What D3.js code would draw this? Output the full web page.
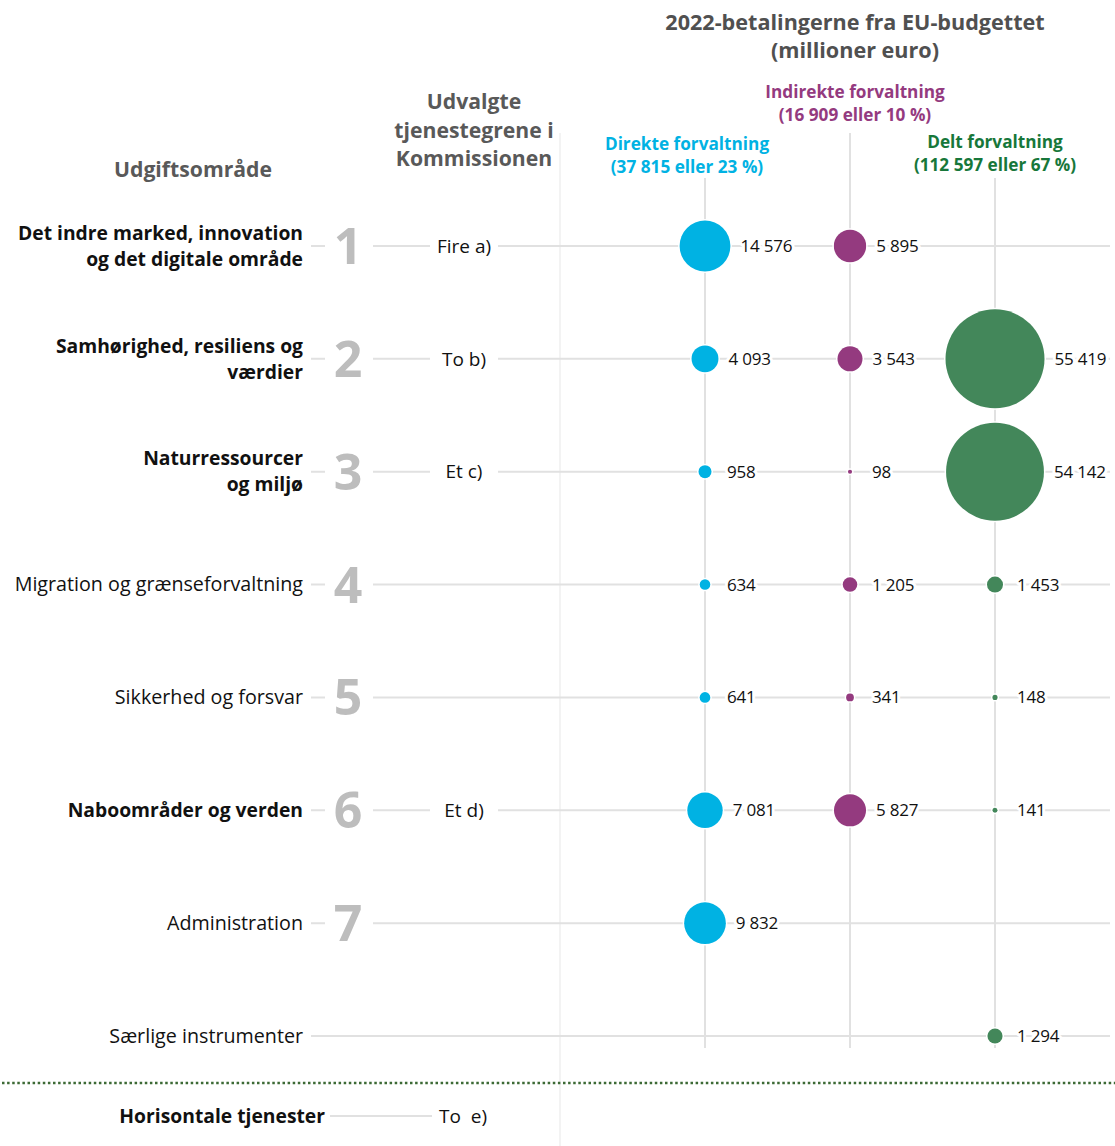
<!DOCTYPE html>
<html>
<head>
<meta charset="utf-8">
<script src="https://cdn.jsdelivr.net/npm/d3@7"></script>
<style>
  html, body { margin: 0; padding: 0; background: #fff; }
  svg { display: block; font-family: "Open Sans", "Noto Sans", sans-serif; }
</style>
</head>
<body>
<svg id="chart" width="1115" height="1146"></svg>
<script>
// ---------- DATA ----------
const categories = [
  "Det indre marked, innovation\nog det digitale område",
  "Samhørighed, resiliens og\nværdier",
  "Naturressourcer\nog miljø",
  "Migration og grænseforvaltning",
  "Sikkerhed og forsvar",
  "Naboområder og verden",
  "Administration",
  "Særlige instrumenter"
];
const headingNumbers = ["1", "2", "3", "4", "5", "6", "7", ""];
const boldCategory = [true, true, true, false, false, true, false, false];
const serviceLabels = ["Fire a)", "To b)", "Et c)", "", "", "Et d)", "", ""];

const seriesNames = ["Direkte forvaltning", "Indirekte forvaltning", "Delt forvaltning"];
const seriesTotals = ["(37 815 eller 23 %)", "(16 909 eller 10 %)", "(112 597 eller 67 %)"];
const directValues   = [14576, 4093, 958, 634, 641, 7081, 9832, null];
const indirectValues = [5895, 3543, 98, 1205, 341, 5827, null, null];
const sharedValues   = [null, 55419, 54142, 1453, 148, 141, null, 1294];

const horizontalLabel = "Horisontale tjenester";
const horizontalService = "To\u00a0 e)";

const titleLines = ["2022-betalingerne fra EU-budgettet", "(millioner euro)"];
const areaTitle = "Udgiftsområde";
const serviceTitle = ["Udvalgte", "tjenestegrene i", "Kommissionen"];

// ---------- STYLE ----------
const colors = ["#00b2e3", "#943a7f", "#43875a"];
const headerColors = ["#00b2e3", "#943a7f", "#17773a"];
const gridColor = "#e1e1e1";
const fmt = v => d3.format(",")(v).replace(/,/g, " ");

const svg = d3.select("#chart");

const y = d3.scalePoint().domain(d3.range(categories.length)).range([246, 1036]);
const x = d3.scalePoint().domain(seriesNames).range([705, 995]);
const r = d3.scaleSqrt().domain([0, 55419]).range([0, 49.5]);

const series = [directValues, indirectValues, sharedValues];

// faint separator vertical line
svg.append("line").attr("x1", 560).attr("x2", 560).attr("y1", 133).attr("y2", 1146)
  .attr("stroke", "#efefef").attr("stroke-width", 1.5);

// vertical series lines
const vTop = [178, 133, 178];
seriesNames.forEach((s, i) => {
  svg.append("line").attr("x1", x(s)).attr("x2", x(s))
    .attr("y1", vTop[i]).attr("y2", 1048)
    .attr("stroke", gridColor).attr("stroke-width", 2);
});

// horizontal row lines
const rows = svg.append("g");
categories.forEach((c, i) => {
  const yy = y(i);
  rows.append("line").attr("x1", 311).attr("x2", 1110).attr("y1", yy).attr("y2", yy)
    .attr("stroke", gridColor).attr("stroke-width", 2);
  if (headingNumbers[i]) {
    rows.append("rect").attr("x", 325).attr("y", yy - 5).attr("width", 48).attr("height", 10).attr("fill", "#fff");
  }
  if (serviceLabels[i]) {
    rows.append("rect").attr("x", 430).attr("y", yy - 5).attr("width", 68).attr("height", 10).attr("fill", "#fff");
  }
});

// category labels
categories.forEach((c, i) => {
  const lines = c.split("\n");
  const t = svg.append("text")
    .attr("x", 303)
    .attr("text-anchor", "end")
    .attr("font-size", boldCategory[i] ? 19.3 : 19.7)
    .attr("font-weight", boldCategory[i] ? 700 : 400)
    .attr("fill", "#111");
  const lh = 26;
  const y0 = y(i) - (lines.length - 1) * lh / 2;
  lines.forEach((l, k) => {
    t.append("tspan").attr("x", 303).attr("y", y0 + k * lh).attr("dy", "0.35em").text(l);
  });
});

// big numbers
headingNumbers.forEach((n, i) => {
  if (!n) return;
  svg.append("text").attr("x", 348).attr("y", y(i)).attr("dy", "0.36em")
    .attr("text-anchor", "middle").attr("font-size", 50).attr("font-weight", 700)
    .attr("fill", "#bdbdbd").text(n);
});

// service labels
serviceLabels.forEach((s, i) => {
  if (!s) return;
  svg.append("text").attr("x", 464).attr("y", y(i)).attr("dy", "0.35em")
    .attr("text-anchor", "middle").attr("font-size", 19).attr("fill", "#111").text(s);
});

// bubbles
series.forEach((vals, si) => {
  const g = svg.append("g");
  vals.forEach((v, i) => {
    if (v == null) return;
    const cx = x(seriesNames[si]);
    const rr = r(v);
    g.append("circle").attr("cx", cx).attr("cy", y(i)).attr("r", rr)
      .attr("fill", colors[si]).attr("stroke", "#fff").attr("stroke-width", 3)
      .attr("paint-order", "stroke");
    g.append("text")
      .attr("x", cx + Math.max(22, rr + 10))
      .attr("y", y(i)).attr("dy", "0.35em")
      .attr("font-size", 17).attr("fill", "#111").attr("letter-spacing", -0.2)
      .attr("stroke", "#fff").attr("stroke-width", 6).attr("paint-order", "stroke")
      .attr("stroke-linejoin", "round")
      .text(fmt(v));
  });
});

// series headers
const headerPos = [[687, 144], [855, 92], [995, 142]];
seriesNames.forEach((s, i) => {
  const t = svg.append("text").attr("text-anchor", "middle")
    .attr("font-size", 17.2).attr("font-weight", 700).attr("fill", headerColors[i]);
  t.append("tspan").attr("x", headerPos[i][0]).attr("y", headerPos[i][1]).attr("dy", "0.35em").text(s);
  t.append("tspan").attr("x", headerPos[i][0]).attr("y", headerPos[i][1] + 23).attr("dy", "0.35em").text(seriesTotals[i]);
});

// title
titleLines.forEach((l, k) => {
  svg.append("text").attr("x", 855).attr("y", 22 + k * 28).attr("dy", "0.35em")
    .attr("text-anchor", "middle").attr("font-size", 21.6).attr("font-weight", 700)
    .attr("fill", "#505050").text(l);
});

// column titles
svg.append("text").attr("x", 193).attr("y", 170).attr("dy", "0.35em")
  .attr("text-anchor", "middle").attr("font-size", 21.2).attr("font-weight", 700)
  .attr("fill", "#595959").text(areaTitle);
serviceTitle.forEach((l, k) => {
  svg.append("text").attr("x", 474).attr("y", 102 + k * 28.5).attr("dy", "0.35em")
    .attr("text-anchor", "middle").attr("font-size", 21.2).attr("font-weight", 700)
    .attr("fill", "#595959").text(l);
});

// dotted separator
svg.append("line").attr("x1", 2).attr("x2", 1115).attr("y1", 1083).attr("y2", 1083)
  .attr("stroke", "#3c6a35").attr("stroke-width", 2.5).attr("stroke-dasharray", "2.5 2.6");

// horizontal services row
svg.append("line").attr("x1", 330).attr("x2", 432).attr("y1", 1116).attr("y2", 1116)
  .attr("stroke", gridColor).attr("stroke-width", 2);
svg.append("text").attr("x", 325).attr("y", 1116).attr("dy", "0.35em")
  .attr("text-anchor", "end").attr("font-size", 19.3).attr("font-weight", 700)
  .attr("fill", "#111").text(horizontalLabel);
svg.append("text").attr("x", 439).attr("y", 1116).attr("dy", "0.35em")
  .attr("font-size", 19).attr("fill", "#111").text(horizontalService);
</script>
</body>
</html>
